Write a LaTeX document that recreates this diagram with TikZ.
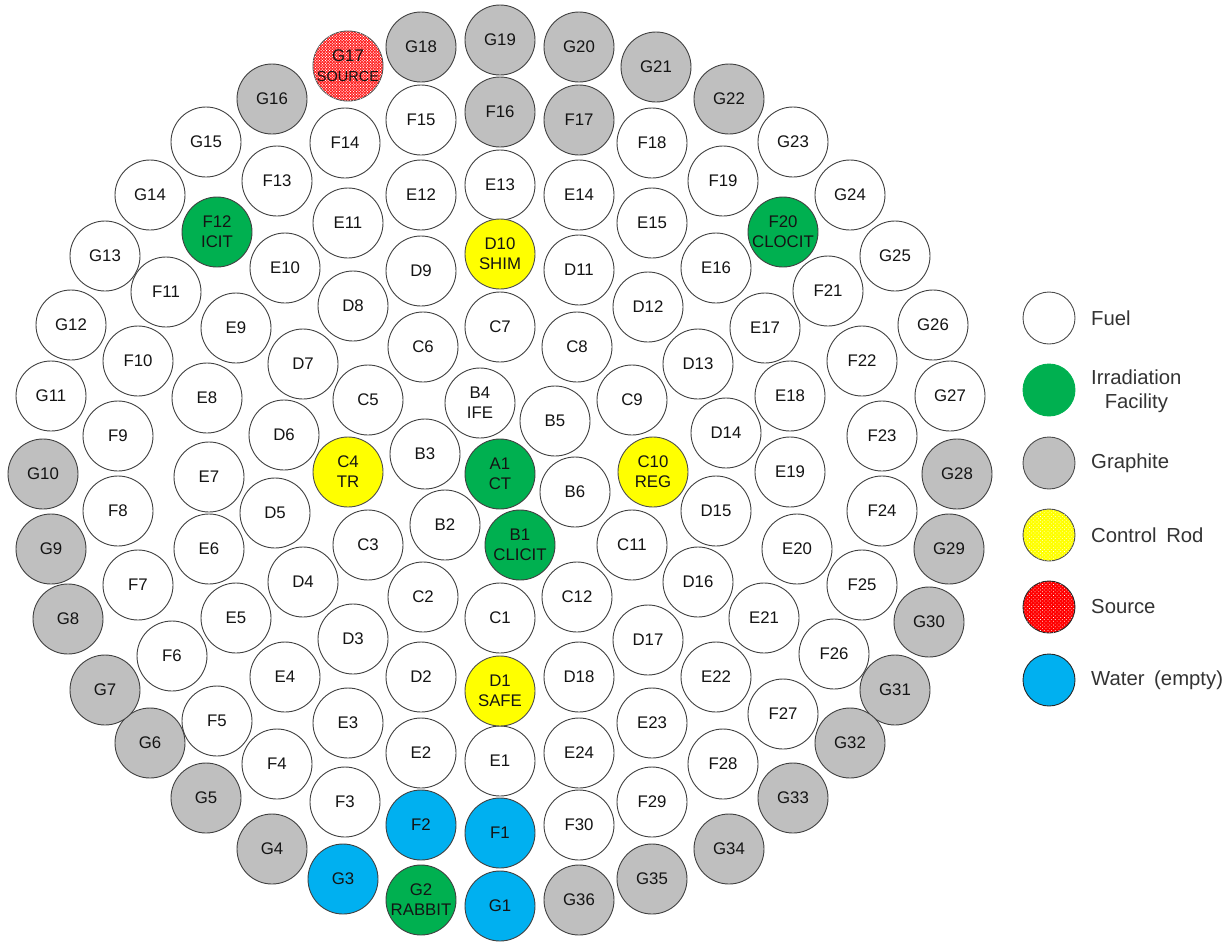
\documentclass[tikz,border=0pt]{standalone}
\usepackage{fontspec}
\setmainfont{Liberation Sans}
\usetikzlibrary{patterns.meta}
\definecolor{gra}{HTML}{BFBFBF}
\definecolor{grn}{HTML}{00B050}
\definecolor{blu}{HTML}{00B0F0}
\definecolor{ylw}{HTML}{FFFF00}
\tikzset{
 x=1pt,y=-1pt,
 cellbase/.style={circle,draw=black!75,line width=0.9pt,minimum size=70pt,inner sep=0pt,align=center,text=black!92,font=\fontsize{16.8}{20}\selectfont},
 fuel/.style={cellbase,fill=white},
 graphite/.style={cellbase,fill=gra},
 irrad/.style={cellbase,fill=grn},
 water/.style={cellbase,fill=blu},
 rod/.style={cellbase,fill=ylw,draw=black!70},
 src/.style={cellbase,fill=red!90!white,draw=black!70,postaction={pattern={Dots[radius=0.7pt,distance=2pt,angle=45]},pattern color=white}},
 leg/.style={circle,draw=black!70,line width=0.9pt,minimum size=52pt,inner sep=0pt},
 legtext/.style={anchor=west,inner sep=0pt,text=black!80,font=\fontsize{20.3}{24}\selectfont,align=center},
}
\newcommand{\sm}[1]{{\fontsize{14.5}{18}\selectfont #1}}
\begin{document}
\begin{tikzpicture}
\useasboundingbox (0,0) rectangle (1231,943);
\foreach \n/\x/\y in {G1/500/906,G3/343/879}{\node[water] (\n) at (\x,\y) {\n};}
\node[irrad] (G2) at (421,900) {G2\\RABBIT};
\foreach \n/\x/\y in {G4/272/849,G5/206/798,G6/150/743,G7/105/690,G8/68/619,G9/51/549,G10/43/474,G16/272/99,G18/421/47,G19/500/40,G20/579/47,G21/656/67,G22/729/99,G28/957/474,G29/949/549,G30/929/622,G31/895/690,G32/850/743,G33/793/798,G34/729/849,G35/652/879,G36/579/900,F16/500/112,F17/579/120}{\node[graphite] (\n) at (\x,\y) {\n};}
\foreach \n/\x/\y in {G11/51/396,G12/71/325,G13/105/256,G14/150/195,G15/206/142,G23/793/142,G24/850/195,G25/895/256,G26/933/325,G27/950/396,
F3/345/802,F4/277/764,F5/217/721,F6/172/656,F7/138/585,F8/118/511,F9/118/436,F10/138/361,F11/166/292,F13/277/181,F14/345/143,F15/421/120,F18/652/143,F19/723/181,F21/828/291,F22/862/361,F23/882/436,F24/882/511,F25/862/585,F26/834/654,F27/783/714,F28/723/764,F29/652/802,F30/579/825,
E1/500/761,E2/421/753,E3/348/723,E4/285/677,E5/236/618,E6/209/549,E7/209/477,E8/207/398,E9/236/328,E10/285/268,E11/348/223,E12/421/195,E13/500/185,E14/579/195,E15/652/223,E16/716/268,E17/765/328,E18/790/396,E19/790/472,E20/797/549,E21/764/618,E22/716/677,E23/652/723,E24/579/753,
D2/421/677,D3/353/639,D4/303/582,D5/275/513,D6/284/435,D7/303/364,D8/353/306,D9/421/271,D11/579/270,D12/648/307,D13/698/364,D14/726/433,D15/716/511,D16/698/582,D17/648/640,D18/579/677,
C1/500/618,C2/423/597,C3/368/545,C5/368/400,C6/423/347,C7/500/327,C8/577/347,C9/632/400,C11/632/545,C12/577/597,
B2/445/525,B3/425/454,B5/555/421,B6/575/492}{\node[fuel] (\n) at (\x,\y) {\n};}
\node[fuel] (B4) at (480,403) {B4\\IFE};
\foreach \n/\x/\y in {F1/500/833,F2/421/825}{\node[water] (\n) at (\x,\y) {\n};}
\node[irrad] (F12) at (217,232) {F12\\ICIT};
\node[irrad] (F20) at (783,232) {F20\\CLOCIT};
\node[irrad] (A1) at (500,474) {A1\\CT};
\node[irrad] (B1) at (520,545) {B1\\CLICIT};
\node[rod] (D1) at (500,691) {D1\\SAFE};
\node[rod] (D10) at (500,254) {D10\\SHIM};
\node[rod] (C4) at (348,472) {C4\\TR};
\node[rod] (C10) at (653,472) {C10\\REG};
\node[src] (G17) at (348,66) {G17\\\sm{SOURCE}};
% legend
\node[leg,fill=white] (L1) at (1049,318) {};
\node[leg,fill=grn,draw=grn] (L2) at (1049,390) {};
\node[leg,fill=gra] (L3) at (1049,463) {};
\node[leg,fill=ylw,draw=black!70,postaction={pattern={Dots[radius=0.5pt,distance=2.6pt,angle=45]},pattern color=white}] (L4) at (1049,535) {};
\node[leg,fill=red,draw=black!85,postaction={pattern={Dots[radius=0.5pt,distance=2.6pt,angle=45]},pattern color=white}] (L5) at (1049,607) {};
\node[leg,fill=blu,draw=black!85] (L6) at (1049,680) {};
\node[legtext] (T1) at (1091,318) {Fuel};
\node[legtext] (T2) at (1091,391) {Irradiation\\Facility};
\node[legtext] (T3) at (1091,463) {Graphite};
\node[legtext] (T4) at (1091,535) {Control\hspace{4pt} Rod};
\node[legtext] (T5) at (1091,607) {Source};
\node[legtext] (T6) at (1091,680) {Water\hspace{4pt} (empty)};
\end{tikzpicture}
\end{document}
